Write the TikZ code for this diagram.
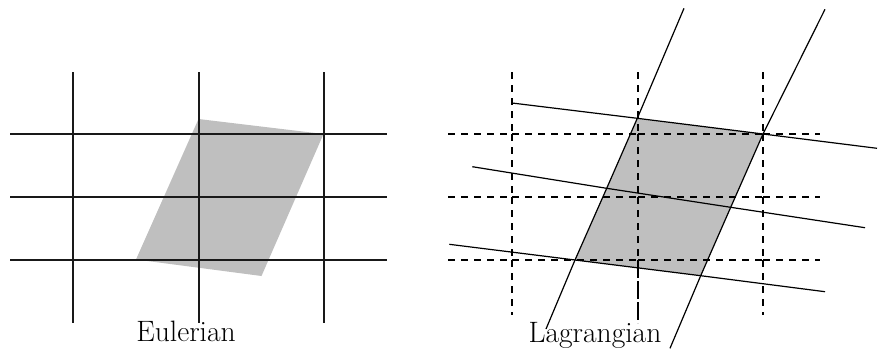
\documentclass[tikz,border=0pt]{standalone}
\begin{document}
\begin{tikzpicture}[x=1pt,y=-1pt,
  gridline/.style={line width=1.05pt,black!90},
  dashline/.style={line width=1.2pt,black,dash pattern=on 7pt off 6pt},
  defline/.style={line width=1.2pt,black,line join=round},
  shade/.style={fill=gray!50,draw=none},
  caption/.style={font=\fontsize{29.5}{34}\selectfont,anchor=base,inner sep=0pt}]
\useasboundingbox (0,0) rectangle (878,351);
% ---------- Eulerian ----------
\coordinate (eA) at (136,259.5);
\coordinate (eB) at (261.5,276);
\coordinate (eC) at (323.5,134);
\coordinate (eD) at (198.5,119);
\fill[shade] (eA) -- (eB) -- (eC) -- (eD) -- cycle;
\foreach \x in {73,199,324} \draw[gridline] (\x,72) -- (\x,323);
\foreach \y in {134,197,260} \draw[gridline] (10,\y) -- (387,\y);
\node[caption] (eul) at (186,341.7) {Eulerian};
% ---------- Lagrangian ----------
\coordinate (p22) at (637.3,118.3);
\coordinate (p42) at (763,134);
\coordinate (p21) at (606.7,188.3);
\coordinate (p41) at (730.7,207.3);
\coordinate (p20) at (575,260);
\coordinate (p40) at (700.7,275.7);
\fill[shade] (p22) -- (p42) -- (p41) -- (p40) -- (p20) -- (p21) -- cycle;
% dashed fixed grid, each segment started at its upper/left end
\foreach \x in {512,638,763}{
  \draw[dashline] (\x,72) -- (\x,134);
  \draw[dashline] (\x,134) -- (\x,197);
  \draw[dashline] (\x,197) -- (\x,260);
}
\draw[dashline] (512,260) -- (512,315);
\draw[dashline] (763,260) -- (763,315);
\draw[line width=1.2pt,black,dash pattern=on 18pt off 3pt] (638,260) -- (638,323);
\foreach \y in {134,197,260}{
  \draw[dashline] (448,\y) -- (512,\y);
  \draw[dashline] (512,\y) -- (638,\y);
  \draw[dashline] (638,\y) -- (763,\y);
  \draw[dashline] (763,\y) -- (820,\y);
}
% deformed material lines
\coordinate (t2) at (684,8.3);
\coordinate (b2) at (546,329);
\coordinate (t4) at (825,9.3);
\coordinate (b4) at (670,348.3);
\draw[defline] (t2) -- (p22) -- (p21) -- (p20) -- (b2);
\draw[defline] (t4) -- (p42) -- (p41) -- (p40) -- (b4);
\coordinate (l2) at (512,103);
\coordinate (r2) at (877,148.3);
\coordinate (l1) at (472.3,166.7);
\coordinate (r1) at (865,227.7);
\coordinate (l0) at (449.3,244.3);
\coordinate (r0) at (825,291.7);
\draw[defline] (l2) -- (p22) -- (p42) -- (r2);
\draw[defline] (l1) -- (p21) -- (p41) -- (r1);
\draw[defline] (l0) -- (p20) -- (p40) -- (r0);
\node[caption] (lag) at (595,342) {Lagrangian};
\end{tikzpicture}
\end{document}
